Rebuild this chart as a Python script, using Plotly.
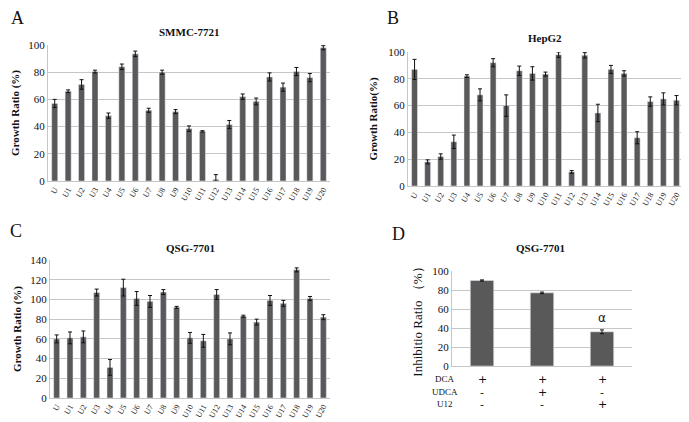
import plotly.graph_objects as go

cats = ["U"] + [f"U{i}" for i in range(1, 21)]

smmc_vals = [57, 66, 71, 80.5, 48, 84, 93.5, 52, 80, 51, 38.5, 36.5, 1.2, 41.5, 62, 58.5, 76.5, 69, 80.5, 76, 98]
smmc_err = [3, 1, 3.5, 1, 2, 2, 2, 1.5, 1.5, 1.5, 2, 0.5, 3.5, 3, 2, 2.5, 3, 3, 3, 3, 1.5]

hepg2_vals = [87, 18, 22, 33, 82, 68, 92, 60, 86, 84, 83.5, 98, 10.5, 97.5, 54.5, 87, 84, 36, 63, 65, 64]
hepg2_err = [7.5, 1.5, 2, 5, 1, 4.5, 3, 8, 3.5, 5, 1.5, 2, 1, 2, 6.5, 3, 2, 4.5, 3.5, 4.5, 3.5]

qsg_vals = [60, 61, 62, 107, 31, 112, 101, 98, 107.5, 92, 61, 58, 105, 60, 83, 77, 99, 96, 130, 101, 82]
qsg_err = [4, 6, 6, 3.5, 8, 8.5, 7, 6, 2.5, 1, 5.5, 6.5, 5, 6, 1, 3, 5, 3, 2, 2, 2.5]

d_cats = ["DCA", "DCA+UDCA", "DCA+U12"]
d_vals = [90, 77, 36]
d_err = [0.6, 0.8, 2]
d_rows = ["DCA", "UDCA", "U12"]
d_signs = [["+", "+", "+"], ["-", "+", "-"], ["-", "-", "+"]]

BAR = "#595959"
GRID = "#c6c6c6"
SERIF = "Liberation Serif"

fig = go.Figure()

def add_bars(x, y, err, xa, ya, width):
    fig.add_trace(go.Bar(
        x=x, y=y, xaxis=xa, yaxis=ya, marker_color=BAR, width=width,
        error_y=dict(type="data", array=err, color="#111111", thickness=1, width=2),
        showlegend=False))

add_bars(cats, smmc_vals, smmc_err, "x", "y", 0.45)
add_bars(cats, hepg2_vals, hepg2_err, "x2", "y2", 0.45)
add_bars(cats, qsg_vals, qsg_err, "x3", "y3", 0.45)
add_bars(d_cats, d_vals, d_err, "x4", "y4", 0.39)

# page has an 8px body margin; map page pixels to paper fractions
OFF = 8
W, H = 689 - OFF, 422 - OFF
def px(p):
    return (p - OFF) / W
def py(p):
    return 1 - (p - OFF) / H
def dx(a, b):
    return [px(a), px(b)]
def dy(top, bot):
    return [py(bot), py(top)]

xcommon = dict(showgrid=False, showline=True, linecolor=GRID, linewidth=1, ticks="",
               tickangle=-60, tickfont=dict(family=SERIF, size=8, color="#222"),
               fixedrange=True, automargin=False)
ycommon = dict(showgrid=True, gridcolor=GRID, gridwidth=1, showline=True, linecolor=GRID,
               linewidth=1, ticks="", zeroline=False, automargin=False,
               tickfont=dict(family=SERIF, size=11, color="#111"), fixedrange=True)

title_font = dict(family=SERIF, size=11, color="#111")

fig.update_layout(
    width=W, height=H, margin=dict(l=0, r=0, t=0, b=0, autoexpand=False),
    paper_bgcolor="white", plot_bgcolor="white",
    bargap=0.5,
    xaxis=dict(domain=dx(48, 330), anchor="y", **xcommon),
    yaxis=dict(domain=dy(45, 181), anchor="x", range=[0, 100], dtick=20,
               title=dict(text="<b>Growth Ratio (%)</b>", font=title_font, standoff=6), **ycommon),
    xaxis2=dict(domain=dx(408, 683), anchor="y2", **xcommon),
    yaxis2=dict(domain=dy(52, 186), anchor="x2", range=[0, 100], dtick=20,
                title=dict(text="<b>Growth Ratio(%)</b>", font=title_font, standoff=8), **ycommon),
    xaxis3=dict(domain=dx(50, 330), anchor="y3", **xcommon),
    yaxis3=dict(domain=dy(260, 398), anchor="x3", range=[0, 140], dtick=20,
                title=dict(text="<b>Growth Ratio (%)</b>", font=title_font, standoff=6), **ycommon),
    xaxis4=dict(domain=dx(452, 632), anchor="y4", showgrid=False, showline=True, linecolor=GRID,
                showticklabels=False, ticks="", fixedrange=True, automargin=False),
    yaxis4=dict(domain=dy(271, 366), anchor="x4", range=[0, 100], dtick=20,
                title=dict(text="Inhibitio Ratio （%）", font=dict(family=SERIF, size=13, color="#111"),
                           standoff=6), **ycommon),
)

ann = []
# panel letters
for txt, x, y in [("A", 17, 18), ("B", 393, 18), ("C", 16, 231), ("D", 398, 234)]:
    ann.append(dict(text=txt, x=px(x), y=py(y), xref="paper", yref="paper", xanchor="center",
                    yanchor="middle", showarrow=False, font=dict(family=SERIF, size=18, color="#111")))
# panel titles
for txt, x, y in [("SMMC-7721", 189, 32), ("HepG2", 545, 38), ("QSG-7701", 190, 248), ("QSG-7701", 540, 248)]:
    ann.append(dict(text=f"<b>{txt}</b>", x=px(x), y=py(y), xref="paper", yref="paper",
                    xanchor="center", yanchor="middle",
                    showarrow=False, font=dict(family=SERIF, size=11, color="#111")))
# row labels for D
for lab, ypx in zip(d_rows, [379, 392, 404]):
    ann.append(dict(text=lab, x=px(445), y=py(ypx), xref="paper", yref="paper",
                    xanchor="center", yanchor="middle",
                    showarrow=False, font=dict(family=SERIF, size=9, color="#111")))
# +/- signs
for row, ypx in zip(d_signs, [379, 392, 404]):
    for c, s in zip(d_cats, row):
        ann.append(dict(text=s, x=c, y=py(ypx), xref="x4", yref="paper", xanchor="center",
                        yanchor="middle", showarrow=False,
                        font=dict(family="DejaVu Sans", size=11, color="#111")))
# alpha marker
ann.append(dict(text="α", x=d_cats[2], y=51, xref="x4", yref="y4", showarrow=False,
                font=dict(family="DejaVu Sans", size=12, color="#111")))

fig.update_layout(annotations=ann)

fig.write_html("out.html")
